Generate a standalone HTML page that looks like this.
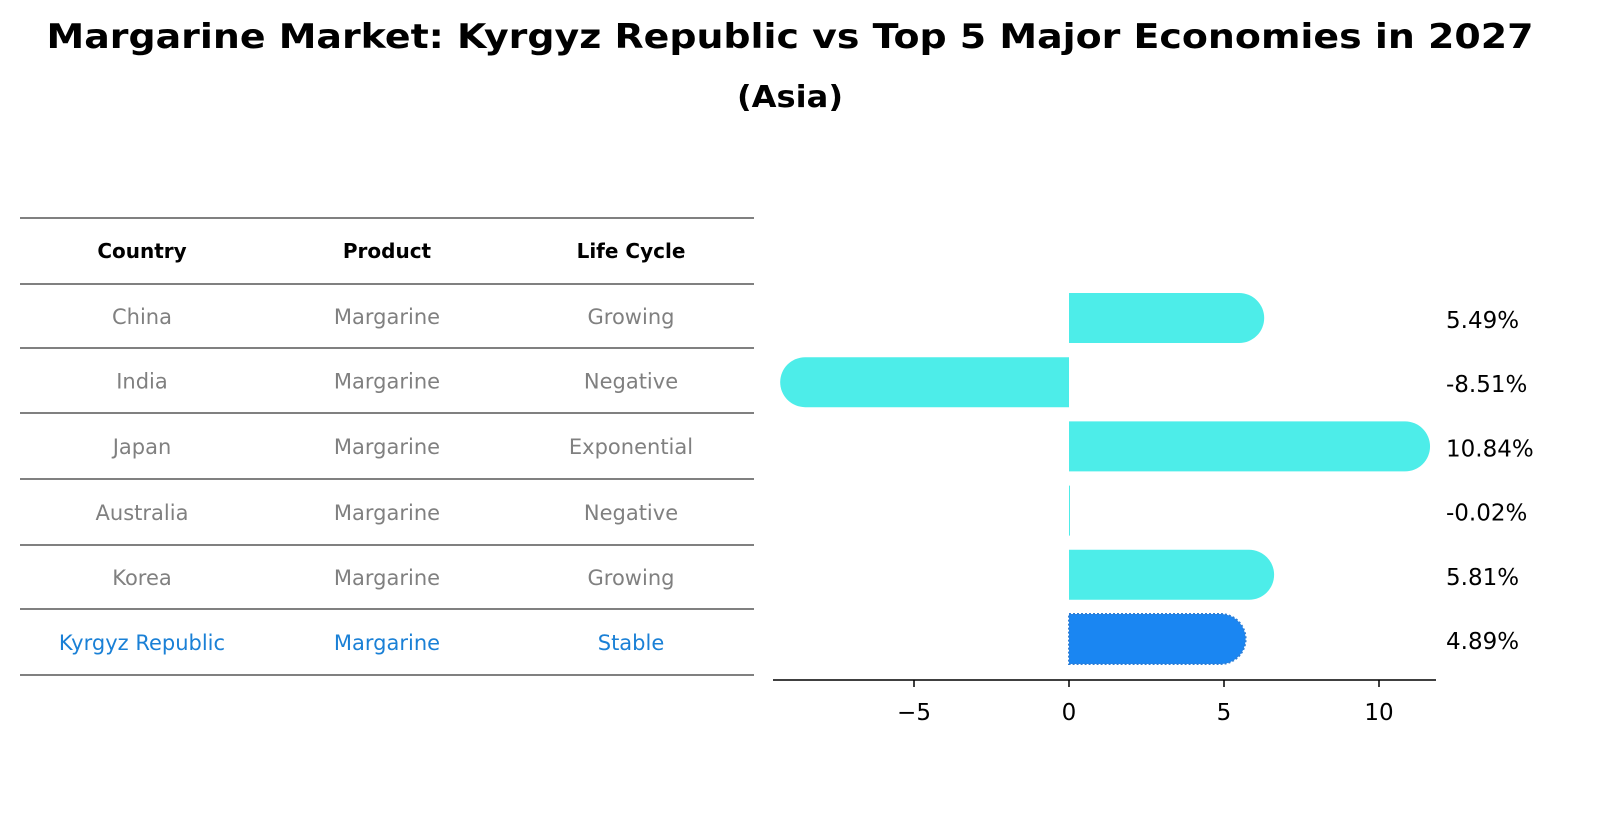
<!DOCTYPE html>
<html><head><meta charset="utf-8"><style>
html,body{margin:0;padding:0;background:#fff;overflow:hidden;width:1604px;height:823px}
svg{display:block}
text{font-family:"DejaVu Sans","Liberation Sans",sans-serif}
</style></head><body>
<svg width="1604" height="823" xmlns="http://www.w3.org/2000/svg">
<text x="790" y="48" text-anchor="middle" font-size="34" font-weight="bold" textLength="1487" lengthAdjust="spacingAndGlyphs">Margarine Market: Kyrgyz Republic vs Top 5 Major Economies in 2027</text>
<text x="790" y="107" text-anchor="middle" font-size="30" font-weight="bold" textLength="106" lengthAdjust="spacingAndGlyphs">(Asia)</text>
<g id="table"></g>
<g id="bars"></g>
</svg>
<script>
const countries=["China","India","Japan","Australia","Korea","Kyrgyz Republic"];
const products=["Margarine","Margarine","Margarine","Margarine","Margarine","Margarine"];
const lifeCycles=["Growing","Negative","Exponential","Negative","Growing","Stable"];
const growth=[5.49,-8.51,10.84,-0.02,5.81,4.89];
const tickValues=[-5,0,5,10];
const NS="http://www.w3.org/2000/svg";
function mk(tag,attrs,parent){const e=document.createElementNS(NS,tag);for(const k in attrs)e.setAttribute(k,attrs[k]);parent.appendChild(e);return e;}
const tbl=document.getElementById('table');
const lineYs=[218,284,348,413,479,545,609,675];
lineYs.forEach(y=>{const l=mk('line',{x1:20,x2:754,y1:y,y2:y,stroke:'#000','stroke-width':1},tbl);

});
const colX=[142,387,631];
["Country","Product","Life Cycle"].forEach((h,i)=>{const t=mk('text',{x:colX[i],y:258,'text-anchor':'middle','font-size':20,'font-weight':'bold'},tbl);t.textContent=h;

});
const rowY=i=>(lineYs[i+1]+lineYs[i+2])/2+8;
countries.forEach((c,i)=>{const col=i===countries.length-1?'#1a80d6':'#808080';
[c,products[i],lifeCycles[i]].forEach((v,j)=>{const t=mk('text',{x:colX[j],y:rowY(i),'text-anchor':'middle','font-size':21,fill:col},tbl);t.textContent=v;

});});
const bars=document.getElementById('bars');
const x0=1069,ppu=31,xs=v=>x0+v*ppu;
const barCY=i=>318+i*64.2,h=50,r=25;
growth.forEach((v,i)=>{const cy=barCY(i),y1=cy-h/2,y2=cy+h/2,xe=xs(v);
let d;
if(Math.abs(v)<0.1){d=`M${x0} ${y1}H${x0+1}V${y2}H${x0}Z`;}
else if(v>0){d=`M${x0} ${y1}H${xe}A${r} ${r} 0 0 1 ${xe} ${y2}H${x0}Z`;}
else{d=`M${x0} ${y1}H${xe}A${r} ${r} 0 0 0 ${xe} ${y2}H${x0}Z`;}
const last=i===growth.length-1;
const p=mk('path',{d:d,fill:last?'#1a86f2':'#4dede9'},bars);
if(last){p.setAttribute('stroke','#2f7fd6');p.setAttribute('stroke-width','2');p.setAttribute('stroke-dasharray','2 2');}


const t=mk('text',{x:1446,y:cy+10,'font-size':23},bars);t.textContent=(v).toFixed(2)+'%';

});
const ax=mk('line',{x1:773,x2:1436,y1:680,y2:680,stroke:'#000','stroke-width':1.5},bars);


tickValues.forEach(v=>{const tk=mk('line',{x1:xs(v),x2:xs(v),y1:680,y2:687,stroke:'#000','stroke-width':1.5},bars);


const t=mk('text',{x:xs(v),y:720,'text-anchor':'middle','font-size':23},bars);t.textContent=v<0?'\u2212'+Math.abs(v):String(v);

});
</script>
</body></html>
